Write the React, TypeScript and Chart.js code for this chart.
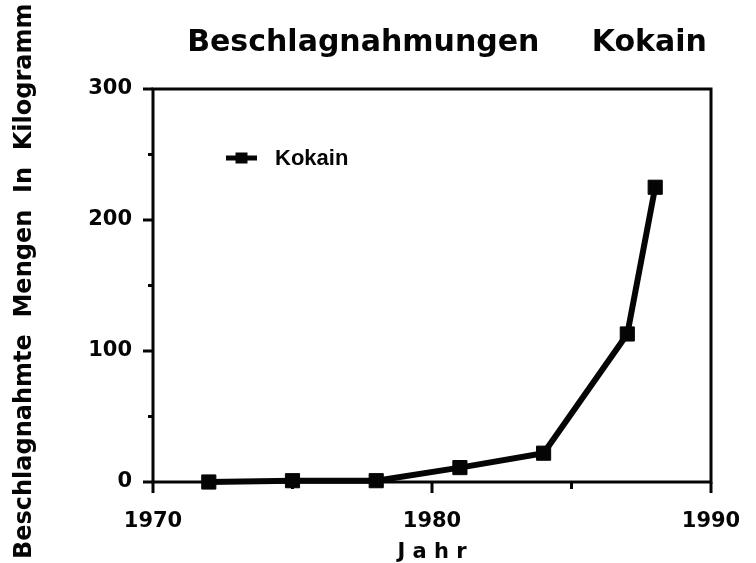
import React, { useEffect, useRef } from "react";
import { Chart, registerables } from "chart.js";

Chart.register(...registerables);

const chartTitle = "Beschlagnahmungen     Kokain";
const xAxisTitle = "J a h r";
const yAxisTitle = " Beschlagnahmte  Mengen  In  Kilogramm";
const seriesLabel = "Kokain";
const years = [1972, 1975, 1978, 1981, 1984, 1987, 1988];
const kokainKg = [0, 1, 1, 11, 22, 113, 225];
const xMin = 1970;
const xMax = 1990;
const xStep = 5;
const xLabelEvery = 10;
const yMin = 0;
const yMax = 300;
const yStep = 50;
const yLabelEvery = 100;

const FONT = "'DejaVu Sans', sans-serif";
const INK = "#050505";

const framePlugin = {
  id: "frameAndTicks",
  afterLayout(chart: any) {
    const tb = chart.titleBlock;
    const ca = chart.chartArea;
    if (tb && ca) {
      tb.left = ca.left + 15;
      tb.right = ca.right + 15;
    }
  },
  beforeDatasetsDraw(chart: any) {
    const { ctx, chartArea: ca, scales } = chart;
    ctx.save();
    ctx.strokeStyle = INK;
    ctx.lineWidth = 3;
    ctx.lineCap = "square";
    ctx.strokeRect(ca.left, ca.top, ca.right - ca.left, ca.bottom - ca.top);
    ctx.lineCap = "butt";
    const xs = scales.x;
    xs.ticks.forEach((t: any) => {
      const px = xs.getPixelForValue(t.value);
      const len = t.value % xLabelEvery === 0 ? 11 : 7;
      ctx.beginPath();
      ctx.moveTo(px, ca.bottom);
      ctx.lineTo(px, ca.bottom + len);
      ctx.stroke();
    });
    const ys = scales.y;
    ys.ticks.forEach((t: any) => {
      const py = ys.getPixelForValue(t.value);
      const len = t.value % yLabelEvery === 0 ? 10 : 5;
      ctx.beginPath();
      ctx.moveTo(ca.left - len, py);
      ctx.lineTo(ca.left, py);
      ctx.stroke();
    });
    ctx.restore();
  },
  afterDraw(chart: any) {
    const { ctx, chartArea: ca } = chart;
    const ds = chart.data.datasets[0];
    const y = ca.top + 69;
    const x0 = ca.left + 73;
    const x1 = ca.left + 104;
    ctx.save();
    ctx.strokeStyle = INK;
    ctx.fillStyle = INK;
    ctx.lineWidth = 5;
    ctx.beginPath();
    ctx.moveTo(x0, y);
    ctx.lineTo(x1, y);
    ctx.stroke();
    ctx.fillRect((x0 + x1) / 2 - 6, y - 5.5, 12, 11);
    ctx.font = "bold 22px 'Liberation Sans', Arial, sans-serif";
    ctx.textBaseline = "middle";
    ctx.textAlign = "left";
    ctx.fillText(ds.label, ca.left + 122, y + 1);
    ctx.restore();
  },
};

export default function App() {
  const ref = useRef<HTMLCanvasElement | null>(null);

  useEffect(() => {
    if (!ref.current) return;
    const chart = new Chart(ref.current, {
      type: "line",
      data: {
        datasets: [
          {
            label: seriesLabel,
            data: years.map((yr, i) => ({ x: yr, y: kokainKg[i] })),
            borderColor: INK,
            backgroundColor: INK,
            borderWidth: 6,
            pointStyle: "rect",
            pointRadius: 10,
            pointBorderWidth: 1,
            pointBackgroundColor: INK,
            pointBorderColor: INK,
            tension: 0,
            clip: false as any,
          },
        ],
      },
      options: {
        responsive: false,
        animation: false,
        devicePixelRatio: 1,
        layout: { padding: { left: 0, right: 45, top: 0, bottom: 0 } },
        plugins: {
          legend: { display: false },
          tooltip: { enabled: false },
          title: {
            display: true,
            text: chartTitle,
            color: INK,
            font: { family: FONT, size: 30, weight: "bold", lineHeight: 1.2 },
            padding: { top: 25, bottom: 28 },
          },
        },
        scales: {
          x: {
            type: "linear",
            min: xMin,
            max: xMax,
            afterFit: (s: any) => {
              s.height = 81;
              s.paddingLeft = 0;
              s.paddingRight = 0;
            },
            grid: { display: false },
            border: { display: false },
            ticks: {
              stepSize: xStep,
              autoSkip: false,
              maxRotation: 0,
              padding: 19,
              color: INK,
              font: { family: FONT, size: 21, weight: "bold" },
              callback: (v: any) => (Number(v) % xLabelEvery === 0 ? String(v) : ""),
            },
            title: {
              display: true,
              text: xAxisTitle,
              color: INK,
              font: { family: FONT, size: 21, weight: "bold", lineHeight: 1 },
              padding: 0,
            },
          },
          y: {
            type: "linear",
            min: yMin,
            max: yMax,
            afterFit: (s: any) => {
              s.width = 153;
              s.paddingTop = 0;
              s.paddingBottom = 0;
            },
            grid: { display: false },
            border: { display: false },
            ticks: {
              stepSize: yStep,
              padding: 13,
              color: INK,
              font: { family: FONT, size: 21, weight: "bold" },
              callback: (v: any) => (Number(v) % yLabelEvery === 0 ? String(v) : ""),
            },
            title: {
              display: true,
              text: yAxisTitle,
              color: INK,
              font: { family: FONT, size: 24, weight: "bold", lineHeight: 1.2 },
              padding: { top: 10, bottom: 0 },
            },
          },
        },
      },
      plugins: [framePlugin],
    });
    return () => chart.destroy();
  }, []);

  return (
    <div style={{ position: "absolute", left: 0, top: 0, width: 756, height: 563, background: "#fff" }}>
      <canvas ref={ref} width={756} height={563} style={{ display: "block" }} />
    </div>
  );
}
